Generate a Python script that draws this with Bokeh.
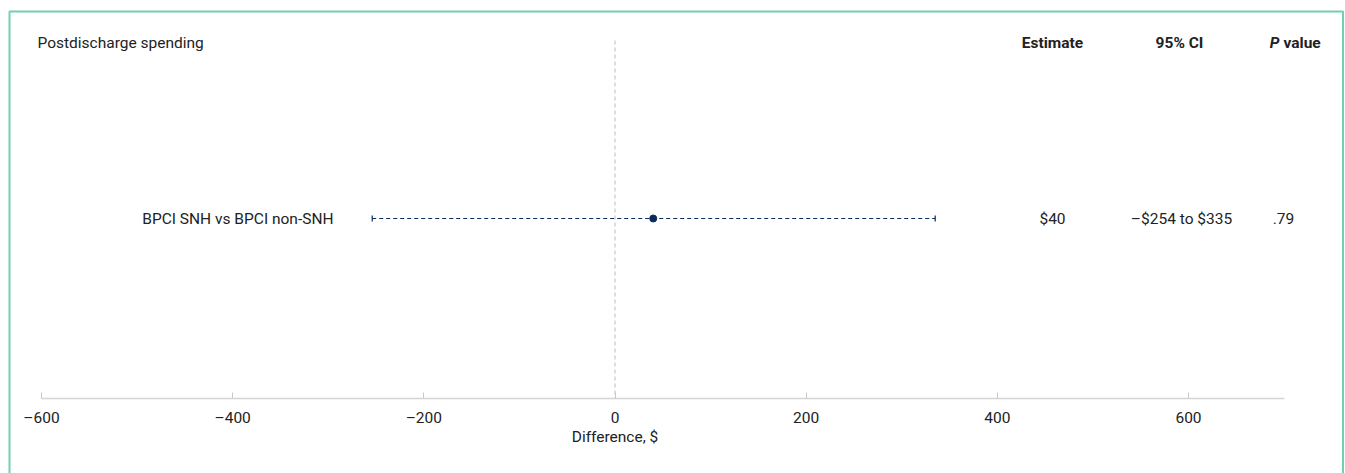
from bokeh.plotting import figure
from bokeh.models import LinearAxis, Range1d, FixedTicker, CustomJSTickFormatter, ColumnDataSource, BoxAnnotation
from bokeh.core.properties import value
from bokeh.embed import file_html
from bokeh.resources import INLINE

# ---- data ----
panel_title = "Postdischarge spending"
comparisons = ["BPCI SNH vs BPCI non-SNH"]
estimates = [40]
ci_low = [-254]
ci_high = [335]
estimate_labels = ["$40"]
ci_labels = ["\u2013$254 to $335"]
p_labels = [".79"]
x_ticks = [-600, -400, -200, 0, 200, 400, 600]
x_label = "Difference, $"

# ---- layout constants (canvas == page here) ----
W, H = 1345, 473
SCALE = (1188 - 41) / 1200.0           # px per dollar
X0 = -600 - 41 / SCALE
X1 = X0 + W / SCALE
def px(page_x):
    return X0 + page_x / SCALE

ROW_PX = 218
YU = 100.0
def py(page_y):
    return (ROW_PX - page_y) / YU

ROW_Y = [0.0]
Y_TOP, Y_BOT = py(0), py(H)
AXIS_Y = py(398)
HEAD_Y = py(42)

FONT = "Roboto"
FS = "15.5px"
NAVY = "#0b2a5e"
TEAL = "#72cfb0"

p = figure(width=W, height=H, output_backend="svg", toolbar_location=None,
           x_axis_type=None, y_axis_type=None,
           x_range=Range1d(X0, X1), y_range=Range1d(Y_BOT, Y_TOP),
           min_border=0)
p.grid.visible = False
p.outline_line_color = None
p.background_fill_color = "white"
p.border_fill_color = "white"

# panel border (bottom edge lies below the visible window)
p.add_layout(BoxAnnotation(left=px(9), right=px(1342.5), top=py(11), bottom=py(500),
                           fill_alpha=0, line_color=TEAL, line_width=2, line_alpha=1))

ax = LinearAxis(fixed_location=AXIS_Y, bounds=(-600, 700),
                ticker=FixedTicker(ticks=x_ticks),
                formatter=CustomJSTickFormatter(code="return tick < 0 ? '\u2013' + Math.abs(tick) : String(tick);"))
ax.axis_line_color = "#d4d4d4"
ax.axis_line_width = 1.5
ax.major_tick_line_color = "#c8c8c8"
ax.major_tick_in = 6
ax.major_tick_out = 0
ax.minor_tick_line_color = None
ax.major_label_standoff = 10
ax.major_label_text_font = FONT
ax.major_label_text_font_size = FS
ax.major_label_text_color = "#222222"
p.add_layout(ax, "below")

# zero reference line
p.segment(x0=[0], y0=[py(40)], x1=[0], y1=[AXIS_Y], line_color="#bdbdbd",
          line_width=1, line_dash="4 3")

src = ColumnDataSource(dict(y=ROW_Y, est=estimates, lo=ci_low, hi=ci_high,
                            name=comparisons, el=estimate_labels, cl=ci_labels, pl=p_labels))

p.segment(x0="lo", y0="y", x1="hi", y1="y", source=src, line_color=NAVY,
          line_width=1.2, line_dash="4 3")
p.scatter(x="lo", y="y", source=src, marker="dash", angle=1.5708, size=6,
          line_color=NAVY, line_width=1.2)
p.scatter(x="hi", y="y", source=src, marker="dash", angle=1.5708, size=6,
          line_color=NAVY, line_width=1.2)
p.scatter(x="est", y="y", source=src, marker="circle", size=7,
          fill_color=NAVY, line_color=NAVY)

common = dict(text_font=value(FONT), text_font_size=FS, text_color="#222222",
              text_baseline="middle")
p.text(x=px(333), y="y", text="name", source=src, text_align="right", **common)
p.text(x=px(1052), y="y", text="el", source=src, text_align="center", **common)
p.text(x=px(1181), y="y", text="cl", source=src, text_align="center", **common)
p.text(x=px(1283), y="y", text="pl", source=src, text_align="center", **common)

p.text(x=[px(37)], y=[HEAD_Y], text=[panel_title], text_align="left", **common)
p.text(x=[px(1052)], y=[HEAD_Y], text=["Estimate"], text_align="center",
       text_font_style="bold", **common)
p.text(x=[px(1179)], y=[HEAD_Y], text=["95% CI"], text_align="center",
       text_font_style="bold", **common)
p.text(x=[px(1279)], y=[HEAD_Y], text=["P"], text_align="right",
       text_font_style="bold italic", **common)
p.text(x=[px(1283)], y=[HEAD_Y], text=["value"], text_align="left",
       text_font_style="bold", **common)
p.text(x=[0], y=[py(436)], text=[x_label], text_align="center", **common)

open("out.html", "w").write(file_html(p, INLINE))
